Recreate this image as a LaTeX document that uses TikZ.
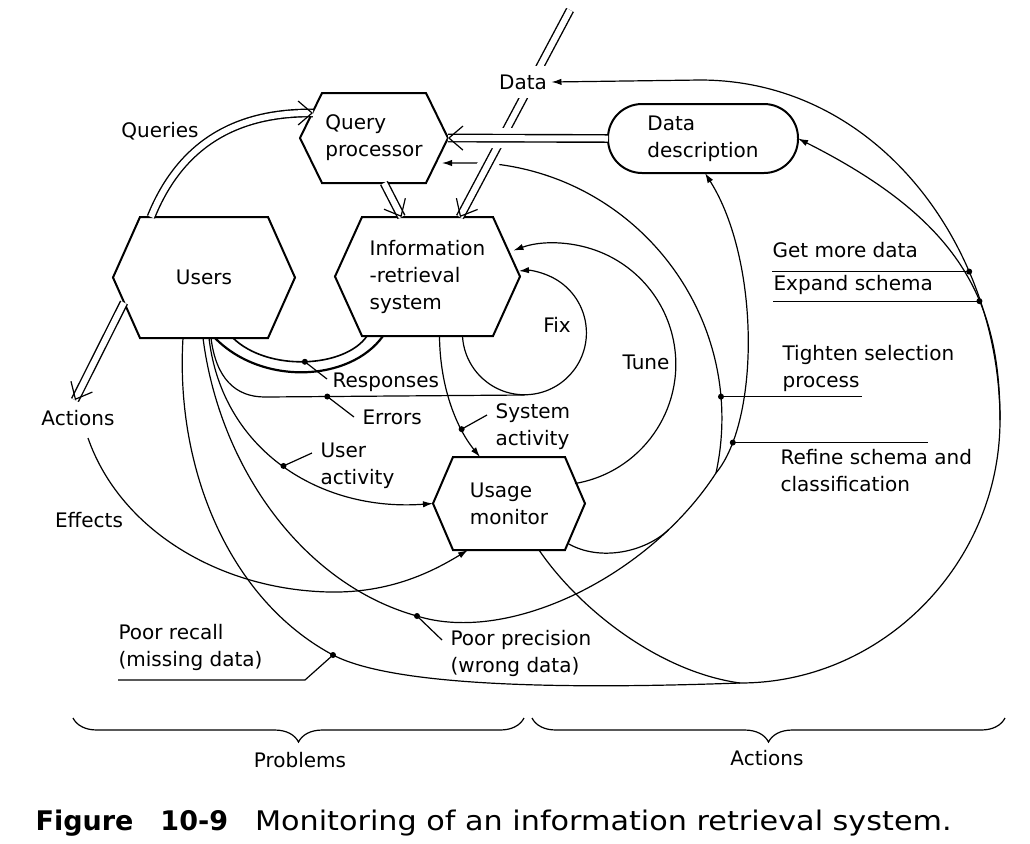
\documentclass[tikz,border=0pt]{standalone}
\usepackage{fontspec}
\setmainfont{DejaVu Sans}
\usetikzlibrary{calc,arrows.meta,decorations.pathreplacing}

\newcommand\hexa[2]{\draw[line width=1pt] (#1.west) -- ($(#1.north west)+(#2,0)$) -- ($(#1.north east)+(-#2,0)$)
  -- (#1.east) -- ($(#1.south east)+(-#2,0)$) -- ($(#1.south west)+(#2,0)$) -- cycle;}

\tikzset{
  hexbox/.style={inner sep=0pt, outer sep=0pt, align=left},
  lbl/.style={inner sep=0pt, align=left, anchor=west},
  dbl/.style={double, double distance=3pt, line width=.7pt},
  barb/.style={line width=.6pt, -{Straight Barb[length=7pt,width=12pt]}},
  arr/.style={-{Latex[length=5pt,width=3.2pt]}},
}

\begin{document}
\begin{tikzpicture}[x=.5pt, y=-.5pt, line width=.6pt, font=\fontsize{10}{13.5}\selectfont]
  \useasboundingbox (0,0) rectangle (1030,843);
  %\draw[help lines, color=blue!20, step=50] (0,0) grid (1030,843);

  \node[hexbox, minimum width=91pt, minimum height=60.5pt] (users) at (204,277.5) {Users};
  \node[hexbox, minimum width=74pt, minimum height=45pt] (qp) at (374,138) {Query\\processor};
  \node[hexbox, minimum width=92.5pt, minimum height=59.5pt] (irs) at (427.5,276.5) {Information\\-retrieval\\system};
  \node[hexbox, minimum width=76pt, minimum height=46.5pt] (um) at (509,503.5) {Usage\\monitor};
  \node[hexbox, draw, line width=1pt, rounded corners=17pt, minimum width=95pt, minimum height=34.5pt] (dd) at (703,138.5) {Data\\description};
  \hexa{users}{27} \hexa{qp}{22} \hexa{irs}{27} \hexa{um}{20}

  \node (queries) at (160,131) {Queries};
  \node (actlbl) at (78,418) {Actions};
  \node (efflbl) at (89,520) {Effects};
  \node[lbl] (resp) at (332,382) {Responses};
  \node[lbl] (errs) at (362,417) {Errors};
  \node[lbl] (useract) at (320,466) {User\\activity};
  \node[lbl] (sysact) at (495,427) {System\\activity};
  \node (fixlbl) at (557,325) {Fix};
  \node (tunelbl) at (646,362) {Tune};
  \node[lbl] (getmore) at (772,250) {Get more data};
  \node[lbl] (expand) at (773,285) {Expand schema};
  \node[lbl] (tighten) at (782,368) {Tighten selection\\process};
  \node[lbl] (refine) at (780,471) {Refine schema and\\classification};
  \node[lbl] (recall) at (118,647) {Poor recall\\(missing data)};
  \node[lbl] (precision) at (450,653) {Poor precision\\(wrong data)};
  \node (problems) at (300,760) {Problems};
  \node (actions) at (767,758) {Actions};
  \node[lbl, font=\fontsize{13.5}{16}\selectfont] (caption) at (35,823)
    {\textbf{Figure\quad 10-9}\quad \scalebox{1.12}[1]{Monitoring of an information retrieval system.}};

  \coordinate (effs) at (88,438);
  \coordinate (actend) at (75,400);
  \coordinate (acts) at ($(users.west)+(11,25)$);
  \coordinate (datatop) at (570,10);
  \coordinate (irsin) at ($(irs.north)+(32.5,0)$);
  \coordinate (qin) at ($(qp.west)+(13,-25)$);
  \coordinate (qps) at ($(qp.south)+(10,0)$);
  \coordinate (irsq) at ($(irs.north)+(-26,0)$);
  \coordinate (fixs) at ($(irs.south)+(35,0)$);

  % users side
  \draw[dbl] ($(users.north west)+(38,0)$) .. controls (180,145) and (235,112) .. (qin);
  \draw[dbl] (qps) -- (irsq);
  \draw[dbl] (acts) -- (actend);
  \draw[line width=1.1pt] ($(irs.south west)+(48,0)$) .. controls (350,382) and (262,386) .. ($(users.south)+(11,0)$);
  \draw[line width=.8pt] ($(irs.south west)+(32,0)$) .. controls (345,368) and (268,372) .. ($(users.south)+(29,0)$) coordinate[pos=.5] (rdot);
  \draw ($(users.south)+(7,0)$) .. controls (216,378) and (235,397) .. (265,397) -- ($(fixs)+(62,59)$) coordinate[pos=.24] (errdot);
  \draw[arr] ($(users.south)+(5,0)$) .. controls (222,450) and (320,512) .. (um.west) coordinate[pos=.5] (uadot);
  \draw[arr] ($(irs.south)+(12,0)$) .. controls (440,390) and (458,430) .. ($(um.north)+(-29,0)$) coordinate[pos=.7] (sadot);
  \draw[arr] (effs) .. controls (120,530) and (220,590) .. (330,592) .. controls (390,593) and (432,572) .. ($(um.south west)+(35,0)$);

  % fix and tune
  \draw[arr] (fixs) arc[start angle=183, end angle=455, radius=31pt];
  \draw[arr] ($(um.east)+(-10,-20)$) arc[start angle=279.6, end angle=470, radius=60.5pt];

  % poor precision
  \draw ($(users.south)+(-1,0)$) .. controls (220,470) and (305,585) .. (417,616) coordinate (ppdot)
    .. controls (510,645) and (650,575) .. (716,473) coordinate[pos=.8] (ppm) coordinate (ppj);
  \draw[arr] (ppj) .. controls (760,420) and (760,260) .. ($(dd.south)+(2,0)$) coordinate[pos=.15] (refdot);
  \draw[arr] (ppj) .. controls (749,321) and (640,175) .. (485,163) coordinate[pos=.17] (tdot) -- ($(qp.east)+(-6,25)$);
  \draw ($(um.east)+(-17,40)$) .. controls (600,562) and (645,552) .. (ppm);

  % data in
  \draw[white, line width=10pt, shorten >=14pt] (datatop) -- (irsin);
  \draw[dbl] (datatop) -- (irsin);
  \draw[white, line width=10pt, shorten <=14pt, shorten >=14pt] (dd.west) -- (qp.east);
  \draw[dbl] (dd.west) -- (qp.east);
  \node[fill=white, inner xsep=2pt, inner ysep=4.5pt] (datalbl) at (523,82) {Data};

  % poor recall
  \draw[arr] ($(users.south)+(-21,0)$) .. controls (175,470) and (230,600) .. (333,655) coordinate (recdot)
    .. controls (400,690) and (600,688) .. (740,683) coordinate (obot)
    .. controls (883,683) and (1000,563) .. (1000,420) coordinate (oright)
    .. controls (1000,250) and (880,80) .. (700,80) coordinate[pos=.3] (moredot) -- (datalbl.east);
  \draw[arr] (oright) .. controls (1000,300) and (960,220) .. (dd.east) coordinate[pos=.37] (expdot);
  \draw ($(um.south)+(30,0)$) .. controls (580,610) and (660,672) .. (obot);

  % open tips
  \draw[barb] ($(qin)+(-2,0)$) -- (qin);
  \draw[barb] ($(irsq)!1pt!(qps)$) -- (irsq);
  \draw[barb] ($(actend)!1pt!(acts)$) -- (actend);
  \draw[barb] ($(irsin)!1pt!(datatop)$) -- (irsin);
  \draw[barb] ($(qp.east)!1pt!(dd.west)$) -- (qp.east);

  % dots and leaders
  \foreach \d in {rdot,errdot,uadot,sadot,recdot,ppdot,moredot,expdot,tdot,refdot}
    \fill (\d) circle (1.5pt);
  \draw (rdot) -- ($(resp.west)+(-5,-3)$);
  \draw (errdot) -- ($(errs.west)+(-8,0)$);
  \draw (uadot) -- ($(useract.west)+(-8,-13)$);
  \draw (sadot) -- ($(sysact.west)+(-8,-12)$);
  \draw (ppdot) -- ($(precision.west)+(-8,-13)$);
  \draw (recdot) -- ++(-28,25) -- ++(-187,0);
  \draw (moredot) -- (moredot -| getmore.west);
  \draw (expdot) -- (expdot -| expand.west);
  \draw (tdot) -- ++(141,0);
  \draw (refdot) -- ++(195,0);

  \draw[decorate, decoration={brace, mirror, amplitude=12pt}] (73,718) -- (524,718);
  \draw[decorate, decoration={brace, mirror, amplitude=12pt}] (532,718) -- (1005,718);
\end{tikzpicture}
\end{document}
